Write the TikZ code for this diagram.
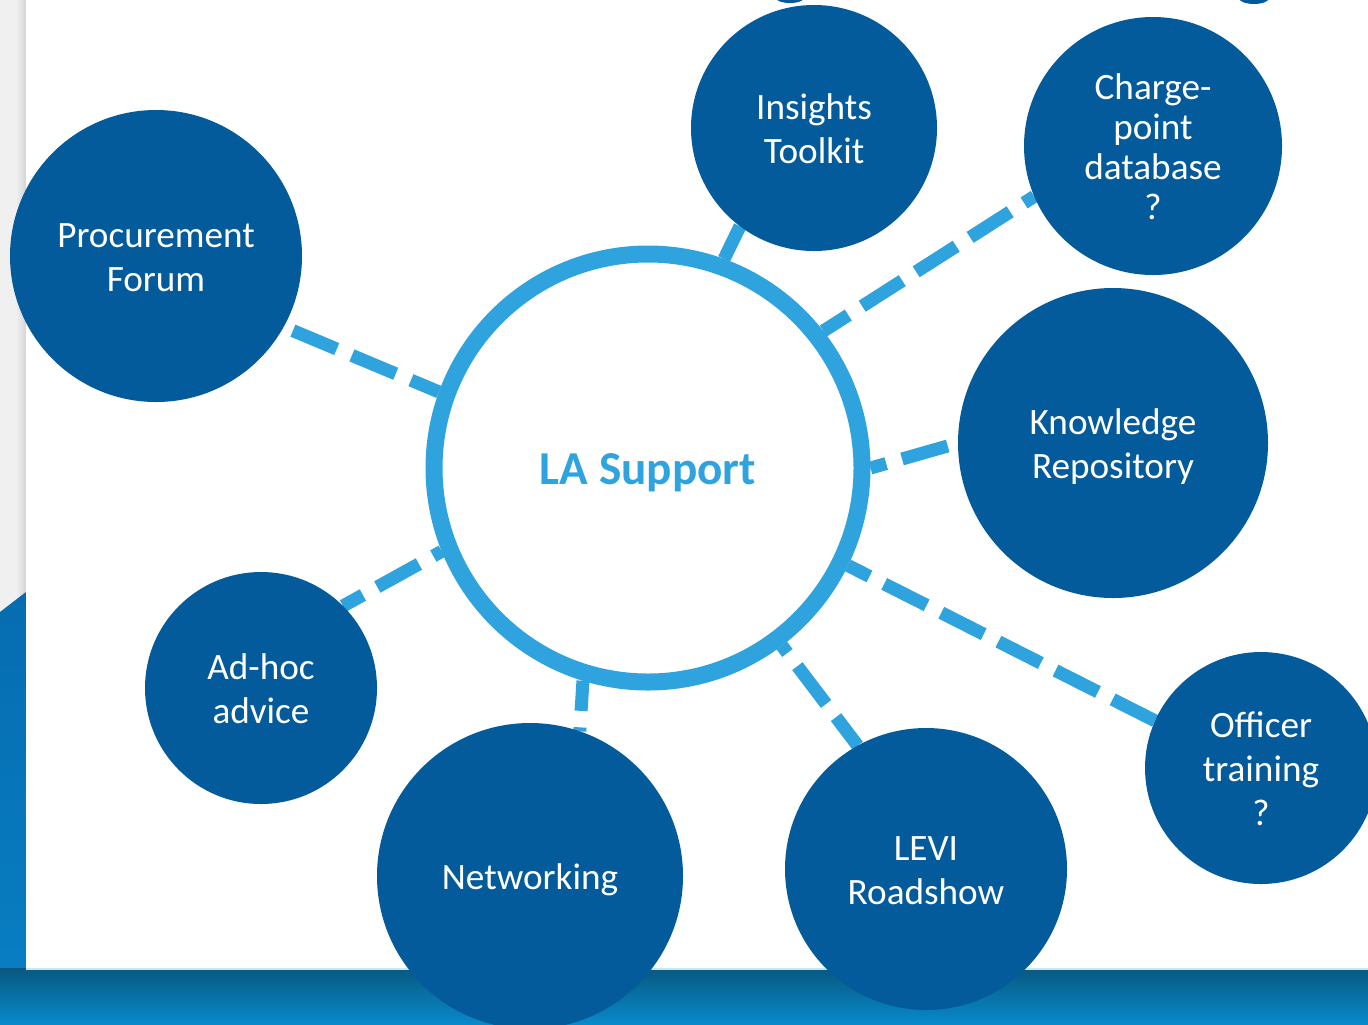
\documentclass[tikz,border=0pt]{standalone}
\usepackage{fontspec}
\setmainfont{Carlito}
\definecolor{dk}{RGB}{4,91,155}
\definecolor{lt}{RGB}{46,163,221}
\definecolor{stripgray}{RGB}{240,240,240}
\definecolor{stripedge}{RGB}{212,212,212}
\definecolor{bgtop}{RGB}{8,88,128}
\definecolor{bgbot}{RGB}{8,138,202}
\definecolor{sidetop}{RGB}{6,108,176}
\definecolor{sidebot}{RGB}{8,128,196}
\definecolor{cardedge}{RGB}{200,232,240}
\newcommand{\lst}{\rule[-4.5pt]{0pt}{22pt}}
\newcommand{\cst}{\rule[-3.5pt]{0pt}{20pt}}
\pgfdeclarelayer{bglayer}
\pgfdeclarelayer{connlayer}
\pgfsetlayers{bglayer,connlayer,main}
\begin{document}
\begin{tikzpicture}[x=0.5pt,y=-0.5pt,
  leaf/.style={circle, fill=dk, text=white, inner sep=0pt, outer sep=0pt,
    align=center, font=\fontsize{18.6pt}{22pt}\selectfont},
  conn/.style={draw=lt, line width=6.5pt, dash pattern=on 23.75pt off 8.25pt}]
\useasboundingbox (0,0) rectangle (1368,1024);
\clip (0,0) rectangle (1368,1024);
% background
\begin{pgfonlayer}{bglayer}
\fill[stripgray] (0,0) rectangle (26,1024);
\shade[left color=stripgray, right color=stripedge] (16,0) rectangle (26,1024);
\shade[top color=sidetop, bottom color=sidebot] (0,612) -- (26,592) -- (26,1024) -- (0,1024) -- cycle;
\shade[top color=bgtop, bottom color=bgbot] (0,968) rectangle (1368,1024);
\fill[white] (26,0) rectangle (1368,968);
\draw[cardedge, line width=1pt] (26,969) -- (1368,969);
% cut-off shapes at the top edge
\fill[dk] (790,-3) ellipse [x radius=15, y radius=6];
\fill[dk] (1254,-3) ellipse [x radius=16, y radius=7];
\end{pgfonlayer}
% nodes
\node[circle, draw=lt, line width=8.5pt, fill=white, minimum size=214pt, inner sep=0pt,
  text=lt, font=\fontsize{23.6pt}{28pt}\selectfont\bfseries] (la) at (648,468) {\smash{\raisebox{-8pt}{LA Support}}};
\node[leaf, minimum size=146pt] (pf) at (156,256) {\lst Procurement\\\lst Forum};
\node[leaf, minimum size=123pt] (ins) at (814,128) {\lst Insights\\\lst Toolkit};
\node[leaf, minimum size=129pt, font=\fontsize{18.6pt}{20pt}\selectfont] (cp) at (1153,146) {\cst Charge-\\\cst point\\\cst database\\\cst ?};
\node[leaf, minimum size=155pt] (kr) at (1113,443) {\lst Knowledge\\\lst Repository};
\node[leaf, minimum size=116pt] (ot) at (1261,768) {\lst Officer\\\lst training\\\lst ?};
\node[leaf, minimum size=141pt] (levi) at (926,869) {\lst LEVI\\\lst Roadshow};
\node[leaf, minimum size=153pt] (nw) at (530,876) {\lst Networking};
\node[leaf, minimum size=116pt] (ah) at (261,688) {\lst Ad-hoc\\\lst advice};
% connectors (behind the circles)
\begin{pgfonlayer}{connlayer}
\draw[conn, dash phase=27pt] (pf.-29.6) -- (la.160.6);
\draw[conn] (ins.-127.3) -- (la.70.1);
\draw[conn, dash phase=17.7pt] (cp.-157.4) -- (la.38.9);
\draw[conn, dash phase=26.65pt] (kr.180) -- (la.0.4);
\draw[conn] (ot.156.6) -- (la.-26.5);
\draw[conn, dash phase=5.85pt] (levi.119.9) -- (la.-53.6);
\draw[conn, dash phase=21.75pt] (nw.71.1) -- (la.-107.3);
\draw[conn, dash phase=12.4pt] (ah.45.1) -- (la.-158.6);
\end{pgfonlayer}
\end{tikzpicture}
\end{document}
